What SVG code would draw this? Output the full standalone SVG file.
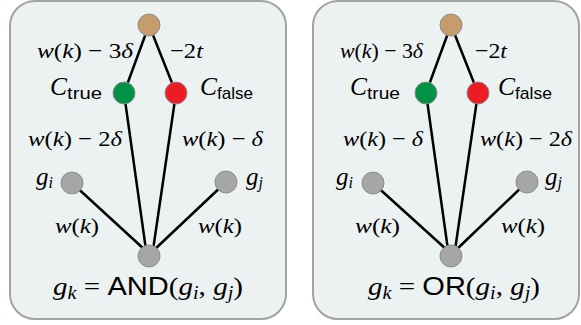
<svg xmlns="http://www.w3.org/2000/svg" width="581" height="325" viewBox="0 0 581 325">
<style>
.panel{fill:#ecf1f1;stroke:#a3a3a3;stroke-width:2}
.edge{stroke:#000;stroke-width:2.5;fill:none;stroke-linecap:round}
.nd{stroke:#8c8c8c;stroke-width:1}
.tan{fill:#c69c6d}.grn{fill:#009245}.red{fill:#ed1c24}.gry{fill:#a6a6a6}
.m{font-family:"Liberation Serif","DejaVu Serif",serif;font-size:22px;fill:#000}
.g{font-size:25px}
.f{font-size:26px}
.c{font-size:25px}
.i{font-style:italic}
.s{font-family:"Liberation Sans","DejaVu Sans",sans-serif;font-style:normal}
.sub{font-size:16px}
.csub{font-size:17px}
.fsub{font-size:18px}
</style>
<rect class="panel" x="10" y="1" width="276" height="318" rx="25"/>
<rect class="panel" x="313" y="1" width="266" height="318" rx="25"/>
<g id="connectors">
<line class="edge" x1="149" y1="25" x2="124" y2="93"/>
<line class="edge" x1="149" y1="25" x2="176" y2="93"/>
<line class="edge" x1="124" y1="93" x2="146" y2="250"/>
<line class="edge" x1="176" y1="93" x2="153" y2="250"/>
<line class="edge" x1="72" y1="183" x2="145" y2="250"/>
<line class="edge" x1="226" y1="182" x2="154" y2="250"/>
<line class="edge" x1="451" y1="25" x2="426" y2="93"/>
<line class="edge" x1="451" y1="25" x2="478" y2="93"/>
<line class="edge" x1="426" y1="93" x2="448" y2="250"/>
<line class="edge" x1="478" y1="93" x2="455" y2="250"/>
<line class="edge" x1="373" y1="183" x2="447" y2="250"/>
<line class="edge" x1="527" y1="182" x2="456" y2="250"/>
</g>
<g id="and-top"><circle class="nd tan" cx="149" cy="25" r="11"/></g>
<g id="and-ctrue"><circle class="nd grn" cx="124" cy="93" r="11"/></g>
<g id="and-cfalse"><circle class="nd red" cx="176" cy="93" r="11"/></g>
<g id="and-gi"><circle class="nd gry" cx="72" cy="183" r="11"/></g>
<g id="and-gj"><circle class="nd gry" cx="226" cy="182" r="11"/></g>
<g id="and-gk"><circle class="nd gry" cx="149" cy="256" r="11"/></g>
<g id="or-top"><circle class="nd tan" cx="451" cy="25" r="11"/></g>
<g id="or-ctrue"><circle class="nd grn" cx="426" cy="93" r="11"/></g>
<g id="or-cfalse"><circle class="nd red" cx="478" cy="93" r="11"/></g>
<g id="or-gi"><circle class="nd gry" cx="373" cy="183" r="11"/></g>
<g id="or-gj"><circle class="nd gry" cx="527" cy="182" r="11"/></g>
<g id="or-gk"><circle class="nd gry" cx="451" cy="256" r="11"/></g>
<g id="labels">
<text class="m" x="37" y="58" textLength="96" lengthAdjust="spacingAndGlyphs"><tspan class="i">w</tspan>(<tspan class="i">k</tspan>) − 3<tspan class="i">δ</tspan></text>
<text class="m" x="170" y="58" textLength="33" lengthAdjust="spacingAndGlyphs">−2<tspan class="i">t</tspan></text>
<text class="m c i" x="50" y="95" textLength="17" lengthAdjust="spacingAndGlyphs">C</text>
<text class="m s csub" x="67" y="99" textLength="35" lengthAdjust="spacingAndGlyphs">true</text>
<text class="m c i" x="200" y="95" textLength="17" lengthAdjust="spacingAndGlyphs">C</text>
<text class="m s csub" x="217" y="99" textLength="36" lengthAdjust="spacingAndGlyphs">false</text>
<text class="m" x="28" y="146" textLength="94" lengthAdjust="spacingAndGlyphs"><tspan class="i">w</tspan>(<tspan class="i">k</tspan>) − 2<tspan class="i">δ</tspan></text>
<text class="m" x="182" y="146" textLength="81" lengthAdjust="spacingAndGlyphs"><tspan class="i">w</tspan>(<tspan class="i">k</tspan>) − <tspan class="i">δ</tspan></text>
<text class="m g" x="36" y="185"><tspan class="i">g</tspan><tspan class="i sub" dy="3">i</tspan></text>
<text class="m g" x="246" y="185"><tspan class="i">g</tspan><tspan class="i sub" dy="3">j</tspan></text>
<text class="m" x="55" y="233" textLength="44" lengthAdjust="spacingAndGlyphs"><tspan class="i">w</tspan>(<tspan class="i">k</tspan>)</text>
<text class="m" x="198" y="233" textLength="44" lengthAdjust="spacingAndGlyphs"><tspan class="i">w</tspan>(<tspan class="i">k</tspan>)</text>
<text class="m f" x="53" y="295" textLength="190" lengthAdjust="spacingAndGlyphs"><tspan class="i">g</tspan><tspan class="i fsub" dy="4">k</tspan><tspan dy="-4"> = </tspan><tspan class="s">AND</tspan>(<tspan class="i">g</tspan><tspan class="i fsub" dy="4">i</tspan><tspan dy="-4">, </tspan><tspan class="i">g</tspan><tspan class="i fsub" dy="4">j</tspan><tspan dy="-4">)</tspan></text>
<text class="m" x="340" y="58" textLength="83" lengthAdjust="spacingAndGlyphs"><tspan class="i">w</tspan>(<tspan class="i">k</tspan>) − 3<tspan class="i">δ</tspan></text>
<text class="m" x="475" y="58" textLength="32" lengthAdjust="spacingAndGlyphs">−2<tspan class="i">t</tspan></text>
<text class="m c i" x="350" y="95" textLength="17" lengthAdjust="spacingAndGlyphs">C</text>
<text class="m s csub" x="367" y="99" textLength="33" lengthAdjust="spacingAndGlyphs">true</text>
<text class="m c i" x="498" y="95" textLength="17" lengthAdjust="spacingAndGlyphs">C</text>
<text class="m s csub" x="515" y="99" textLength="37" lengthAdjust="spacingAndGlyphs">false</text>
<text class="m" x="343" y="146" textLength="80" lengthAdjust="spacingAndGlyphs"><tspan class="i">w</tspan>(<tspan class="i">k</tspan>) − <tspan class="i">δ</tspan></text>
<text class="m" x="480" y="146" textLength="92" lengthAdjust="spacingAndGlyphs"><tspan class="i">w</tspan>(<tspan class="i">k</tspan>) − 2<tspan class="i">δ</tspan></text>
<text class="m g" x="336" y="185"><tspan class="i">g</tspan><tspan class="i sub" dy="3">i</tspan></text>
<text class="m g" x="545" y="185"><tspan class="i">g</tspan><tspan class="i sub" dy="3">j</tspan></text>
<text class="m" x="355" y="233" textLength="45" lengthAdjust="spacingAndGlyphs"><tspan class="i">w</tspan>(<tspan class="i">k</tspan>)</text>
<text class="m" x="501" y="233" textLength="44" lengthAdjust="spacingAndGlyphs"><tspan class="i">w</tspan>(<tspan class="i">k</tspan>)</text>
<text class="m f" x="368" y="295" textLength="172" lengthAdjust="spacingAndGlyphs"><tspan class="i">g</tspan><tspan class="i fsub" dy="4">k</tspan><tspan dy="-4"> = </tspan><tspan class="s">OR</tspan>(<tspan class="i">g</tspan><tspan class="i fsub" dy="4">i</tspan><tspan dy="-4">, </tspan><tspan class="i">g</tspan><tspan class="i fsub" dy="4">j</tspan><tspan dy="-4">)</tspan></text>
</g>
</svg>
